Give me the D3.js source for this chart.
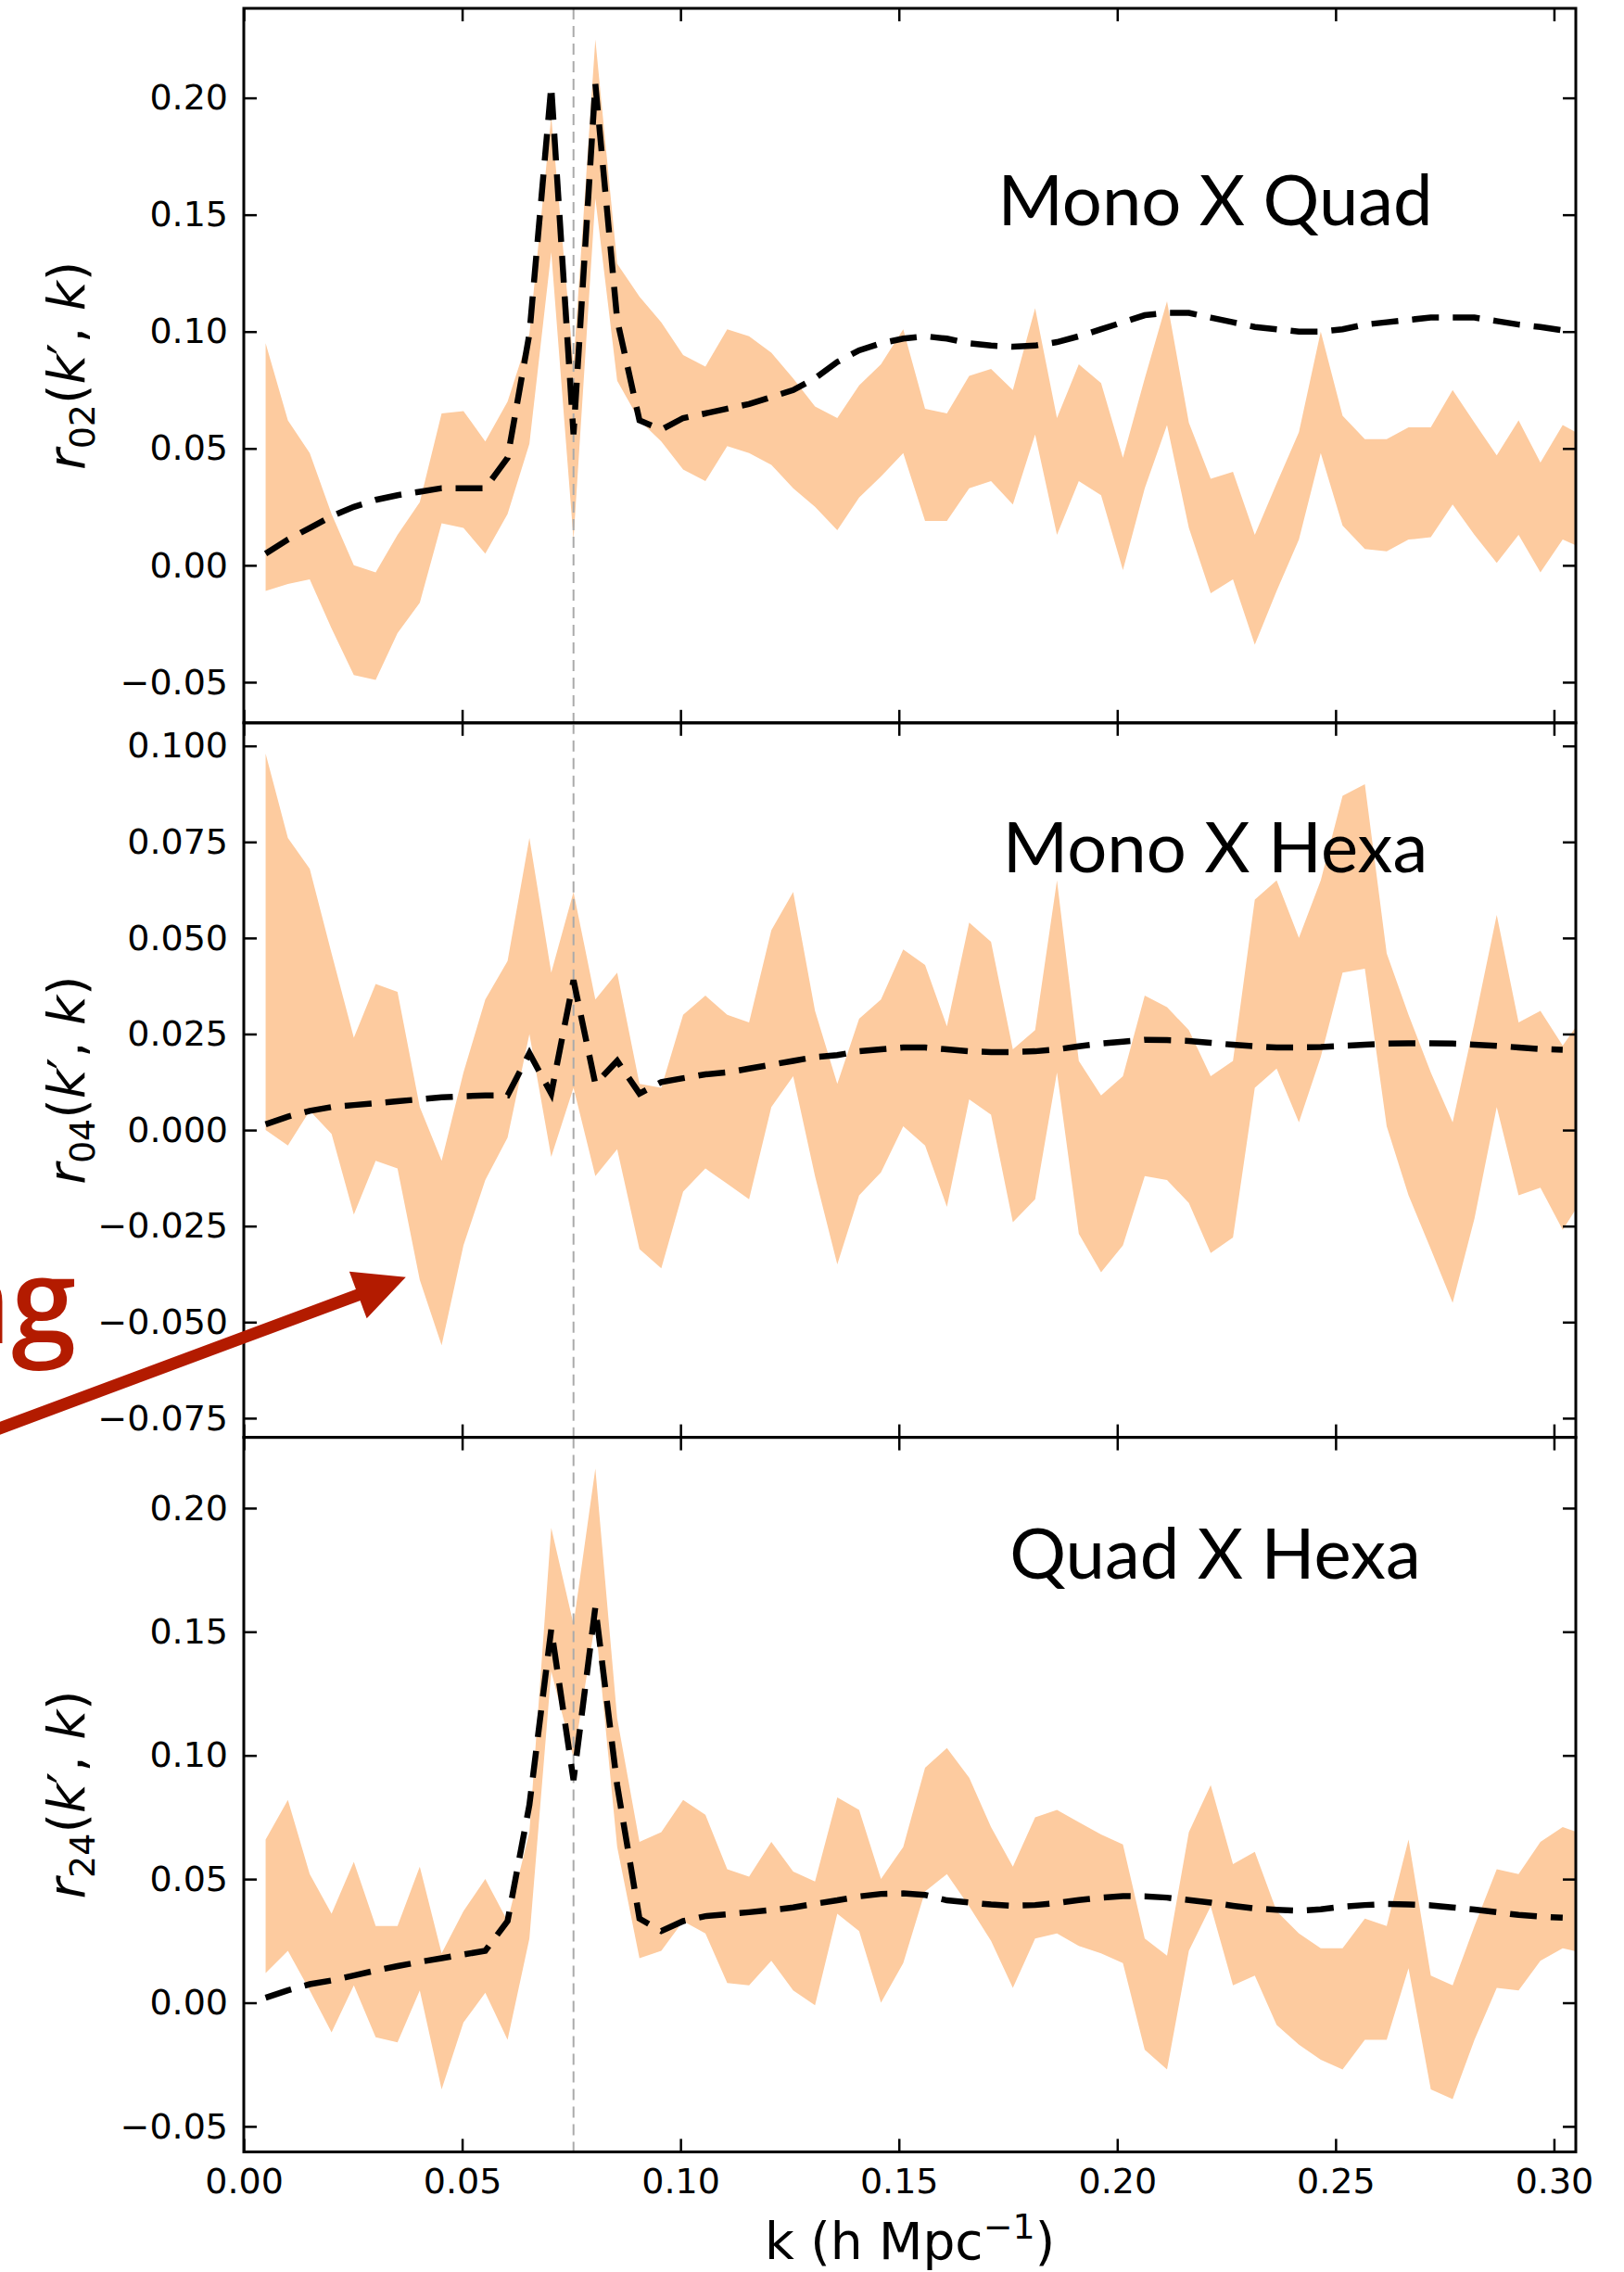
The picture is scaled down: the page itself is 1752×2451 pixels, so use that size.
<!DOCTYPE html>
<html>
<head>
<meta charset="utf-8">
<script src="https://cdn.jsdelivr.net/npm/d3@7"></script>
<style>
  body { margin: 0; background: #fff; }
  svg { display: block; }
</style>
</head>
<body>
<div id="chart"></div>
<script>
// k bins (h/Mpc)
const kValues = [0.0050, 0.0101, 0.0151, 0.0201, 0.0252, 0.0302, 0.0352, 0.0403, 0.0453, 0.0503,
  0.0553, 0.0604, 0.0654, 0.0704, 0.0755, 0.0805, 0.0855, 0.0906, 0.0956, 0.1006,
  0.1057, 0.1107, 0.1157, 0.1208, 0.1258, 0.1308, 0.1359, 0.1409, 0.1459, 0.1510,
  0.1560, 0.1610, 0.1661, 0.1711, 0.1761, 0.1812, 0.1862, 0.1912, 0.1963, 0.2013,
  0.2063, 0.2114, 0.2164, 0.2214, 0.2265, 0.2315, 0.2365, 0.2416, 0.2466, 0.2516,
  0.2567, 0.2617, 0.2667, 0.2718, 0.2768, 0.2818, 0.2869, 0.2919, 0.2969, 0.3020, 0.3070];

const markerK = 0.0755;

// Mono X Quad
const r02Upper = [0.095, 0.062, 0.048, 0.022, 0.000, -0.003, 0.013, 0.027, 0.065, 0.066,
  0.053, 0.070, 0.099, 0.192, 0.086, 0.225, 0.129, 0.115, 0.104, 0.090,
  0.085, 0.101, 0.098, 0.091, 0.080, 0.068, 0.063, 0.077, 0.086, 0.101,
  0.067, 0.065, 0.081, 0.084, 0.075, 0.110, 0.063, 0.086, 0.078, 0.046,
  0.080, 0.113, 0.061, 0.037, 0.040, 0.013, 0.035, 0.057, 0.100, 0.064,
  0.054, 0.054, 0.059, 0.059, 0.075, 0.061, 0.047, 0.062, 0.044, 0.060, 0.055];
const r02Lower = [-0.011, -0.008, -0.006, -0.027, -0.047, -0.049, -0.029, -0.016, 0.018, 0.016,
  0.005, 0.022, 0.052, 0.134, 0.011, 0.157, 0.079, 0.062, 0.053, 0.041,
  0.036, 0.051, 0.048, 0.043, 0.033, 0.025, 0.015, 0.029, 0.038, 0.048,
  0.019, 0.019, 0.033, 0.036, 0.026, 0.056, 0.013, 0.036, 0.030, -0.002,
  0.033, 0.060, 0.016, -0.012, -0.006, -0.034, -0.011, 0.011, 0.048, 0.017,
  0.007, 0.006, 0.011, 0.012, 0.026, 0.013, 0.001, 0.013, -0.003, 0.011, 0.007];
const r02Model = [0.005, 0.011, 0.016, 0.021, 0.025, 0.028, 0.030, 0.0315, 0.033, 0.033,
  0.033, 0.046, 0.099, 0.205, 0.056, 0.206, 0.105, 0.062, 0.058, 0.063,
  0.065, 0.067, 0.069, 0.072, 0.075, 0.080, 0.087, 0.092, 0.095, 0.097,
  0.098, 0.097, 0.095, 0.094, 0.0935, 0.094, 0.0955, 0.098, 0.101, 0.104,
  0.107, 0.108, 0.108, 0.106, 0.104, 0.102, 0.101, 0.100, 0.100, 0.101,
  0.103, 0.104, 0.105, 0.106, 0.106, 0.106, 0.1045, 0.103, 0.102, 0.1005];

// Mono X Hexa
const r04Upper = [0.098, 0.076, 0.068, 0.046, 0.024, 0.038, 0.036, 0.006, -0.008, 0.015,
  0.034, 0.044, 0.076, 0.041, 0.062, 0.034, 0.041, 0.012, 0.011, 0.030,
  0.035, 0.030, 0.028, 0.052, 0.062, 0.031, 0.012, 0.029, 0.034, 0.047,
  0.043, 0.027, 0.054, 0.049, 0.021, 0.026, 0.065, 0.018, 0.009, 0.014,
  0.035, 0.032, 0.026, 0.014, 0.018, 0.060, 0.065, 0.050, 0.065, 0.087,
  0.090, 0.046, 0.030, 0.015, 0.002, 0.028, 0.056, 0.028, 0.031, 0.022, 0.030];
const r04Lower = [0.000, -0.004, 0.005, -0.001, -0.022, -0.008, -0.010, -0.039, -0.056, -0.030,
  -0.013, -0.002, 0.025, -0.007, 0.011, -0.012, -0.005, -0.031, -0.036, -0.016,
  -0.010, -0.014, -0.018, 0.006, 0.014, -0.012, -0.035, -0.017, -0.011, 0.001,
  -0.004, -0.020, 0.008, 0.004, -0.024, -0.018, 0.015, -0.027, -0.037, -0.030,
  -0.012, -0.013, -0.019, -0.032, -0.028, 0.011, 0.016, 0.002, 0.019, 0.041,
  0.042, 0.001, -0.017, -0.031, -0.045, -0.023, 0.006, -0.017, -0.015, -0.026, -0.017];
const r04Model = [0.0015, 0.0035, 0.005, 0.006, 0.0065, 0.007, 0.0075, 0.008, 0.0085, 0.0088,
  0.009, 0.009, 0.020, 0.0095, 0.039, 0.012, 0.018, 0.0095, 0.0125, 0.0135,
  0.0145, 0.015, 0.016, 0.017, 0.018, 0.019, 0.0195, 0.0205, 0.021, 0.0215,
  0.0215, 0.021, 0.0205, 0.0203, 0.0203, 0.0205, 0.021, 0.0218, 0.0225, 0.023,
  0.0235, 0.0234, 0.0232, 0.0227, 0.0222, 0.0218, 0.0215, 0.0215, 0.0216, 0.0219,
  0.0222, 0.0225, 0.0226, 0.0226, 0.0225, 0.0222, 0.0219, 0.0215, 0.0211, 0.0209];

// Quad X Hexa
const r24Upper = [0.066, 0.082, 0.052, 0.036, 0.057, 0.031, 0.031, 0.055, 0.020, 0.037,
  0.050, 0.033, 0.069, 0.192, 0.153, 0.216, 0.115, 0.065, 0.069, 0.082,
  0.076, 0.054, 0.051, 0.065, 0.053, 0.049, 0.083, 0.078, 0.050, 0.063,
  0.095, 0.103, 0.091, 0.071, 0.055, 0.075, 0.078, 0.073, 0.068, 0.064,
  0.026, 0.019, 0.069, 0.088, 0.056, 0.061, 0.037, 0.028, 0.022, 0.022,
  0.034, 0.031, 0.066, 0.011, 0.007, 0.031, 0.054, 0.052, 0.065, 0.071, 0.068];
const r24Lower = [0.012, 0.021, 0.005, -0.012, 0.007, -0.014, -0.016, 0.005, -0.035, -0.008,
  0.004, -0.015, 0.026, 0.134, 0.099, 0.154, 0.063, 0.018, 0.021, 0.033,
  0.028, 0.008, 0.007, 0.017, 0.005, -0.001, 0.036, 0.029, 0.000, 0.016,
  0.045, 0.052, 0.039, 0.025, 0.006, 0.026, 0.028, 0.023, 0.020, 0.016,
  -0.019, -0.027, 0.021, 0.039, 0.007, 0.011, -0.009, -0.017, -0.023, -0.027,
  -0.015, -0.015, 0.014, -0.035, -0.039, -0.015, 0.006, 0.005, 0.017, 0.022, 0.020];
const r24Model = [0.002, 0.005, 0.0075, 0.009, 0.011, 0.013, 0.0148, 0.0165, 0.018, 0.0195,
  0.021, 0.033, 0.080, 0.151, 0.090, 0.160, 0.088, 0.034, 0.029, 0.033,
  0.035, 0.0358, 0.0366, 0.0375, 0.0385, 0.040, 0.0414, 0.043, 0.044, 0.0442,
  0.0436, 0.0414, 0.0405, 0.0397, 0.0392, 0.0395, 0.0403, 0.0415, 0.0425, 0.0431,
  0.043, 0.0425, 0.0415, 0.0405, 0.0392, 0.0381, 0.0376, 0.0372, 0.0378, 0.0388,
  0.0395, 0.0399, 0.0397, 0.0394, 0.0385, 0.0377, 0.0366, 0.0355, 0.0348, 0.0344];

// axis ticks / labels
const xTicks = [0.00, 0.05, 0.10, 0.15, 0.20, 0.25, 0.30];
const yTicks02 = [-0.05, 0.00, 0.05, 0.10, 0.15, 0.20];
const yTicks04 = [-0.075, -0.050, -0.025, 0.000, 0.025, 0.050, 0.075, 0.100];
const yTicks24 = [-0.05, 0.00, 0.05, 0.10, 0.15, 0.20];
const titles = ["Mono X Quad", "Mono X Hexa", "Quad X Hexa"];
const subscripts = ["02", "04", "24"];

// layout
const W = 1752, H = 2451;
const marginLeft = 263, marginTop = 9, plotW = 1437, panelH = 770.8;
const bandColor = "#fdcb9f";

const panels = [
  { upper: r02Upper, lower: r02Lower, model: r02Model, ticks: yTicks02, fmt: ".2f",
    domain: [-0.0674, 0.2383], titleY: 234 },
  { upper: r04Upper, lower: r04Lower, model: r04Model, ticks: yTicks04, fmt: ".3f",
    domain: [-0.0800, 0.1060], titleY: 161 },
  { upper: r24Upper, lower: r24Lower, model: r24Model, ticks: yTicks24, fmt: ".2f",
    domain: [-0.0603, 0.2286], titleY: 152 }
];

const svg = d3.select("#chart").append("svg")
    .attr("width", W)
    .attr("height", H)
    .style("background", "#fff");

const x = d3.scaleLinear().domain([0, 0.305]).range([0, plotW]);

let yMid;

panels.forEach(function(p, i) {
  const g = svg.append("g")
      .attr("transform", "translate(" + marginLeft + "," + (marginTop + i * panelH) + ")");
  const y = d3.scaleLinear().domain(p.domain).range([panelH, 0]);
  if (i === 1) yMid = y;

  g.append("clipPath").attr("id", "clip" + i)
    .append("rect").attr("width", plotW).attr("height", panelH);

  const plot = g.append("g").attr("clip-path", "url(#clip" + i + ")");

  // scatter band
  const band = kValues.map(function(k, j) { return { k: k, lo: p.lower[j], hi: p.upper[j] }; });
  plot.append("path")
      .datum(band)
      .attr("fill", bandColor)
      .attr("stroke", "none")
      .attr("d", d3.area()
        .x(function(d) { return x(d.k); })
        .y0(function(d) { return y(d.lo); })
        .y1(function(d) { return y(d.hi); }));

  // vertical marker
  plot.append("line")
      .attr("x1", x(markerK)).attr("x2", x(markerK))
      .attr("y1", 0).attr("y2", panelH)
      .attr("stroke", "#aaaaaa")
      .attr("stroke-width", 2)
      .attr("stroke-dasharray", "12,7");

  // model curve
  const model = p.model.map(function(v, j) { return { k: kValues[j], v: v }; });
  plot.append("path")
      .datum(model)
      .attr("fill", "none")
      .attr("stroke", "#000")
      .attr("stroke-width", 6.5)
      .attr("stroke-dasharray", "29,15")
      .attr("d", d3.line()
        .x(function(d) { return x(d.k); })
        .y(function(d) { return y(d.v); }));

  // axes, ticks pointing in
  g.append("g")
      .call(d3.axisLeft(y).tickValues(p.ticks).tickFormat(d3.format(p.fmt))
        .tickSizeInner(-14).tickSizeOuter(0).tickPadding(17));
  g.append("g").attr("transform", "translate(" + plotW + ",0)")
      .call(d3.axisRight(y).tickValues(p.ticks).tickFormat("")
        .tickSizeInner(-14).tickSizeOuter(0));
  g.append("g")
      .call(d3.axisTop(x).tickValues(xTicks).tickFormat("")
        .tickSizeInner(-14).tickSizeOuter(0));
  g.append("g").attr("transform", "translate(0," + panelH + ")")
      .call(d3.axisBottom(x).tickValues(xTicks)
        .tickFormat(i === 2 ? d3.format(".2f") : "")
        .tickSizeInner(-14).tickSizeOuter(0).tickPadding(18));

  g.selectAll(".domain").remove();
  g.selectAll(".tick line").attr("stroke", "#000").attr("stroke-width", 2.5);
  g.selectAll(".tick text")
      .attr("fill", "#000")
      .style("font-family", "'DejaVu Sans', sans-serif")
      .style("font-size", "38px");

  // frame
  g.append("rect")
      .attr("width", plotW).attr("height", panelH)
      .attr("fill", "none")
      .attr("stroke", "#000")
      .attr("stroke-width", 3);

  // panel title
  g.append("text")
      .attr("x", 1048).attr("y", p.titleY)
      .attr("text-anchor", "middle")
      .style("font-family", "Lato, 'Open Sans', sans-serif")
      .style("font-size", "76px")
      .text(titles[i]);

  // y label r_ll'(k', k)
  const lab = g.append("text")
      .attr("transform", "translate(-172," + (panelH / 2) + ") rotate(-90)")
      .attr("text-anchor", "middle")
      .style("font-family", "'DejaVu Sans', sans-serif")
      .style("font-size", "55px");
  lab.append("tspan").style("font-style", "italic").text("r");
  lab.append("tspan").attr("dy", 11).style("font-size", "38px").text(subscripts[i]);
  lab.append("tspan").attr("dy", -11).text("(");
  lab.append("tspan").style("font-style", "italic").text("k");
  lab.append("tspan").text("\u2032, ");
  lab.append("tspan").style("font-style", "italic").text("k");
  lab.append("tspan").text(")");

  // x label on bottom panel
  if (i === 2) {
    const xl = g.append("text")
        .attr("x", plotW / 2).attr("y", panelH + 116)
        .attr("text-anchor", "middle")
        .style("font-family", "'DejaVu Sans', sans-serif")
        .style("font-size", "55px");
    xl.append("tspan").text("k (h Mpc");
    xl.append("tspan").attr("dy", -22).style("font-size", "38px").text("\u22121");
    xl.append("tspan").attr("dy", 22).text(")");
  }
});

// red annotation arrow (from slide overlay), anchored in middle panel coords
const arrowTail = { k: -0.0558, v: -0.0776 };
const arrowTip = { k: 0.0371, v: -0.0383 };
const ax = function(d) { return marginLeft + x(d.k); };
const ay = function(d) { return marginTop + panelH + yMid(d.v); };
const x0 = ax(arrowTail), y0 = ay(arrowTail), x1 = ax(arrowTip), y1 = ay(arrowTip);
const len = Math.hypot(x1 - x0, y1 - y0);
const ux = (x1 - x0) / len, uy = (y1 - y0) / len;
const headLen = 55, headHalf = 27;
const bx = x1 - ux * headLen, by = y1 - uy * headLen;
const red = "#b31b00";

svg.append("line")
    .attr("x1", x0 - ux * 20).attr("y1", y0 - uy * 20)
    .attr("x2", bx + ux * 6).attr("y2", by + uy * 6)
    .attr("stroke", red)
    .attr("stroke-width", 13);
svg.append("path")
    .attr("fill", red)
    .attr("d", "M" + x1 + "," + y1 +
      "L" + (bx - uy * headHalf) + "," + (by + ux * headHalf) +
      "L" + (bx + uy * headHalf) + "," + (by - ux * headHalf) + "Z");

svg.append("text")
    .attr("x", 82).attr("y", 1449)
    .attr("text-anchor", "end")
    .attr("fill", red)
    .style("font-family", "'Open Sans', sans-serif")
    .style("font-weight", 600)
    .style("font-size", "126px")
    .text("ng");
</script>
</body>
</html>
